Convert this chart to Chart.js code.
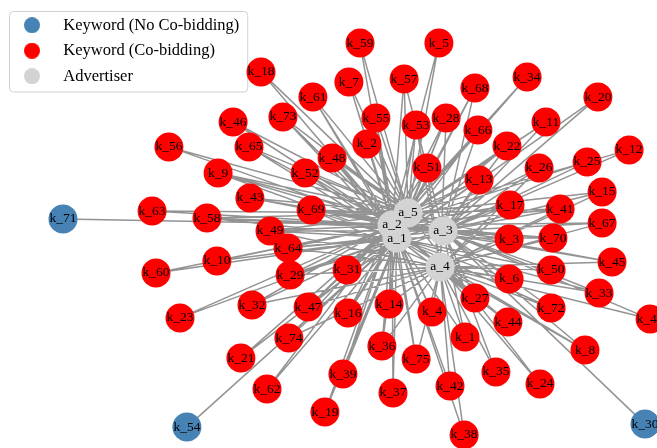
<!DOCTYPE html>
<html>
<head>
<meta charset="utf-8">
<script src="https://cdn.jsdelivr.net/npm/chart.js@4.4.1/dist/chart.umd.min.js"></script>
<style>
  html, body { margin: 0; padding: 0; background: #fff; }
  #wrap { width: 657px; height: 448px; }
</style>
</head>
<body>
<div id="wrap"><canvas id="graph" width="657" height="448"></canvas></div>
<script>
// ================= LAYOUT DATA =================
// keyword node positions, k_1 ... k_75 (layout units)
const keywordX = [
   0.200, -0.127,  0.347,  0.090,  0.113,  0.347, -0.187,  0.600, -0.623, -0.627,
   0.470,  0.747,  0.247, -0.053,  0.657, -0.190,  0.350, -0.480, -0.267,  0.643,
  -0.547,  0.340, -0.750,  0.450,  0.607,  0.447,  0.233,  0.137, -0.383,  0.800,
  -0.193, -0.510,  0.647,  0.407,  0.303, -0.077, -0.040,  0.197, -0.207,  0.817,
   0.517,  0.150, -0.517,  0.343,  0.690, -0.573, -0.323, -0.243, -0.450,  0.487,
   0.073, -0.333,  0.037, -0.727, -0.097, -0.787, -0.003, -0.660, -0.150, -0.830,
  -0.307, -0.460, -0.843, -0.390, -0.520,  0.243,  0.657,  0.233, -0.313,  0.493,
  -1.140,  0.487, -0.407, -0.387,  0.037
];
const keywordY = [
  -0.357,  0.287, -0.030, -0.273,  0.623, -0.163,  0.493, -0.400,  0.190, -0.103,
   0.360,  0.267,  0.167, -0.247,  0.127, -0.277,  0.083,  0.527, -0.607,  0.443,
  -0.427,  0.280, -0.293, -0.513,  0.227,  0.207, -0.227,  0.373, -0.150, -0.647,
  -0.133, -0.250, -0.210,  0.510, -0.473, -0.387, -0.543, -0.683, -0.480, -0.297,
   0.070, -0.520,  0.107, -0.307, -0.107,  0.360, -0.257,  0.240, -0.003, -0.133,
   0.207,  0.190,  0.350, -0.657,  0.373,  0.277,  0.503,  0.040,  0.623, -0.143,
   0.443, -0.530,  0.063, -0.060,  0.277,  0.333,  0.023,  0.473,  0.067, -0.027,
   0.037, -0.260,  0.377, -0.360, -0.430
];
// advertisers each keyword bids with (1 = a_1 ...)
const keywordAds = [
  [1,3,4], [1,2,5], [2,3,4,5], [1,2,4], [2,5], [1,3,4], [1,2,5], [1,3,4], [1,2,3,5], [1,2],
  [2,3,5], [3,5], [1,2,3,5], [1,2,4], [3,4,5], [1,2,5], [1,2,3,4], [2,5], [1,2], [1,3],
  [1,2], [1,3,5], [1,2], [4,5], [2,3,5], [1,3,4], [1,2,3,4], [1,2,4,5], [1,2,3,4], [3],
  [1,2,3,5], [1,2,4], [1,3,4], [2,5], [3,4], [1,2,4], [1,2], [1,4], [1,2,5], [3,4],
  [2,3,4,5], [1,4], [2,3,5], [1,2,4], [2,3,4], [2,5], [1,2,4,5], [1,2,3,5], [1,2,3,4,5], [1,3,4],
  [1,2,3,4], [1,2,5], [1,3,4,5], [1], [1,2,5], [2,5], [2,3,5], [1,2,3,5], [2,5], [1,2],
  [1,2,5], [1,2], [2,5], [1,2,3,4], [1,2,5], [1,3,5], [2,3,4], [1,3,5], [1,2,3,4,5], [1,2,3,4],
  [2], [1,3,4], [1,2,5], [1,2,4], [1,2,4]
];

const advertiserNames = ["a_1", "a_2", "a_3", "a_4", "a_5"];
const advertiserX = [-0.027, -0.043, 0.127, 0.117, 0.010];
const advertiserY = [-0.027, 0.017, -0.003, -0.123, 0.057];

const legendNames = ["Keyword (No Co-bidding)", "Keyword (Co-bidding)", "Advertiser"];
const nodeColors = ["#4682b4", "#ff0000", "#d3d3d3"];

// ================= BUILD NODES / EDGES =================
const soloNodes = [];
const sharedNodes = [];
const edgePoints = [];

keywordX.forEach((x, i) => {
  const y = keywordY[i];
  const node = { x: x, y: y, name: "k_" + (i + 1) };
  if (keywordAds[i].length > 1) sharedNodes.push(node);
  else soloNodes.push(node);

  keywordAds[i].forEach(a => {
    edgePoints.push({ x: x, y: y });
    edgePoints.push({ x: advertiserX[a - 1], y: advertiserY[a - 1] });
    edgePoints.push({ x: NaN, y: NaN }); // break the line
  });
});

const adNodes = advertiserNames.map((name, i) => ({ x: advertiserX[i], y: advertiserY[i], name: name }));

// legend dots
function legendDot(color) {
  const c = document.createElement("canvas");
  c.width = 16;
  c.height = 16;
  const g = c.getContext("2d");
  g.fillStyle = color;
  g.beginPath();
  g.arc(8, 8, 8, 0, Math.PI * 2);
  g.fill();
  return c;
}

// ================= PLUGINS =================
const nodeLabels = {
  id: "nodeLabels",
  afterDatasetsDraw(chart) {
    const ctx = chart.ctx;
    ctx.save();
    ctx.font = '13.5px "Liberation Serif", serif';
    ctx.fillStyle = "#000";
    ctx.textAlign = "center";
    ctx.textBaseline = "middle";
    chart.data.datasets.forEach((ds, di) => {
      if (!ds.isNode) return;
      chart.getDatasetMeta(di).data.forEach((pt, i) => {
        ctx.fillText(ds.data[i].name, pt.x, pt.y);
      });
    });
    ctx.restore();
  }
};

const legendFrame = {
  id: "legendFrame",
  beforeDraw(chart) {
    const boxes = chart.legend && chart.legend.legendHitBoxes;
    if (!boxes || !boxes.length) return;
    const left = boxes[0].left;
    const top = boxes[0].top - 6;
    let right = 0;
    boxes.forEach(b => { right = Math.max(right, b.left + b.width); });
    const last = boxes[boxes.length - 1];
    const bottom = last.top + last.height + 7;
    const ctx = chart.ctx;
    ctx.save();
    ctx.beginPath();
    ctx.roundRect(left + 0.5, top + 0.5, right + 8 - left, bottom - top, 4);
    ctx.fillStyle = "rgba(255,255,255,0.85)";
    ctx.fill();
    ctx.strokeStyle = "#d0d0d0";
    ctx.lineWidth = 1;
    ctx.stroke();
    ctx.restore();
  }
};

// ================= CHART =================
const ctx = document.getElementById("graph").getContext("2d");

const graph = new Chart(ctx, {
  type: "scatter",
  data: {
    datasets: [
      {
        label: legendNames[0],
        data: soloNodes,
        isNode: true,
        backgroundColor: nodeColors[0],
        pointRadius: 14.5,
        pointBorderWidth: 0,
        clip: false,
        order: 0
      },
      {
        label: legendNames[1],
        data: sharedNodes,
        isNode: true,
        backgroundColor: nodeColors[1],
        pointRadius: 14.5,
        pointBorderWidth: 0,
        clip: false,
        order: 0
      },
      {
        label: legendNames[2],
        data: adNodes,
        isNode: true,
        backgroundColor: nodeColors[2],
        pointRadius: 14.5,
        pointBorderWidth: 0,
        clip: false,
        order: 0
      },
      {
        label: "edges",
        data: edgePoints,
        showLine: true,
        borderColor: "rgba(128,128,128,0.85)",
        borderWidth: 1.5,
        pointRadius: 0,
        order: 1
      }
    ]
  },
  options: {
    responsive: false,
    devicePixelRatio: 1,
    animation: false,
    events: [],
    layout: { padding: 0, autoPadding: false },
    scales: {
      x: { type: "linear", min: -1.35, max: 0.84, display: false },
      y: { type: "linear", min: -0.7267, max: 0.7667, display: false }
    },
    plugins: {
      tooltip: { enabled: false },
      legend: {
        position: "chartArea",
        align: "start",
        title: { display: true, text: "", padding: 0, font: { size: 8, lineHeight: 1 } },
        labels: {
          usePointStyle: true,
          pointStyleWidth: 46,
          padding: 9,
          color: "#000",
          font: { family: '"Liberation Serif", serif', size: 16.5 },
          generateLabels: () => legendNames.map((text, i) => ({
            text: text,
            fontColor: "#000",
            pointStyle: legendDot(nodeColors[i]),
            fillStyle: nodeColors[i],
            strokeStyle: nodeColors[i],
            lineWidth: 0,
            hidden: false,
            datasetIndex: i
          }))
        }
      }
    }
  },
  plugins: [legendFrame, nodeLabels]
});
</script>
</body>
</html>
